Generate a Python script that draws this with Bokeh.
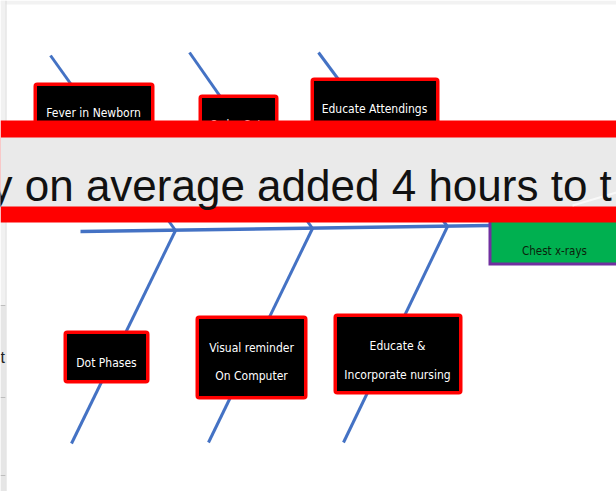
from bokeh.plotting import figure
from bokeh.models import Range1d
from bokeh.core.properties import value
from bokeh.embed import file_html
from bokeh.resources import INLINE

# ---- content (fishbone / cause-and-effect diagram) ----
top_labels = ["Fever in Newborn", "Order Sets", "Educate Attendings"]
bottom_lines_1 = ["Dot Phases", "Visual reminder", "Educate &"]
bottom_lines_2 = ["", "On Computer", "Incorporate nursing"]
effect_label = "Chest x-rays"
banner_text = "y on average added 4 hours to t"
edge_fragment = "nt"

# ---- geometry (screen pixels, y downward) ----
spine_x = [80, 489]
spine_y = [231, 225]
joint_x = [175, 312, 447]
joint_y = [230, 228, 226]
upper_tip_x = [50, 189, 318]
upper_tip_y = [55, 52, 52]
lower_tip_x = [71, 208, 343]
lower_tip_y = [443, 442, 442]

top_box_left = [33, 198, 310]
top_box_right = [154, 278, 439]
top_box_top = [82, 94, 77]
top_box_bottom = [135, 135, 135]
top_text_x = [93, 238, 374]
top_text_y = [112, 124, 108]

bot_box_left = [63, 195, 333]
bot_box_right = [149, 307, 462]
bot_box_top = [330, 315, 313]
bot_box_bottom = [383, 399, 394]
bot_text_x = [106, 251, 397]
bot_text_y1 = [362, 347, 345]
bot_text_y2 = [0, 375, 374]

W, H = 616, 491
p = figure(width=W, height=H, x_range=Range1d(0, W), y_range=Range1d(H, 0),
           output_backend="svg", toolbar_location=None, min_border=0,
           x_axis_type=None, y_axis_type=None,
           background_fill_color="white", border_fill_color="white", outline_line_color=None)
p.grid.visible = False

BLUE = "#4472C4"
RED = "#FF0000"

# window chrome around the slide
p.quad(left=[0], right=[W], top=[0], bottom=[4], fill_color="#F2F2F2", line_color=None)
p.quad(left=[0], right=[5], top=[0], bottom=[H], fill_color="#F1F1F1", line_color=None)
p.quad(left=[0], right=[5], top=[305], bottom=[H], fill_color="#E6E6E6", line_color=None)
p.multi_line(xs=[[0, 5], [0, 5], [0, 5]], ys=[[305, 305], [397, 397], [475, 475]],
             line_color="#BDBDBD", line_width=1)
p.line([5.5, 5.5], [0, H], line_color="#DADADA", line_width=1)
p.text(x=[-9], y=[357], text=[edge_fragment], text_font=value("Liberation Sans"), text_font_size="16px",
       text_color="#222222", text_align="left", text_baseline="alphabetic")

# bones
for i in range(3):
    p.line([upper_tip_x[i], joint_x[i]], [upper_tip_y[i], joint_y[i]], line_color=BLUE, line_width=3)
    p.line([joint_x[i], lower_tip_x[i]], [joint_y[i], lower_tip_y[i]], line_color=BLUE, line_width=3)
p.line(spine_x, spine_y, line_color=BLUE, line_width=3.5)

# cause boxes
ins = 1.75
for L, R, T, B in [(top_box_left, top_box_right, top_box_top, top_box_bottom),
                   (bot_box_left, bot_box_right, bot_box_top, bot_box_bottom)]:
    p.quad(left=[v + ins for v in L], right=[v - ins for v in R],
           top=[v + ins for v in T], bottom=[v - ins for v in B],
           fill_color="black", line_color=RED, line_width=3.5, border_radius=2)

FONT = value("DejaVu Sans Condensed, Liberation Sans Narrow, Liberation Sans, sans-serif")
FS = "12px"
p.text(x=top_text_x, y=top_text_y, text=top_labels, text_font=FONT, text_font_size=FS,
       text_color="white", text_align="center", text_baseline="alphabetic")
p.text(x=bot_text_x, y=bot_text_y1, text=bottom_lines_1, text_font=FONT, text_font_size=FS,
       text_color="white", text_align="center", text_baseline="alphabetic")
p.text(x=bot_text_x[1:], y=bot_text_y2[1:], text=bottom_lines_2[1:], text_font=FONT, text_font_size=FS,
       text_color="white", text_align="center", text_baseline="alphabetic")

# effect box (green with purple edge)
p.quad(left=[488], right=[W + 5], top=[215], bottom=[265], fill_color="#7030A0", line_color=None)
p.quad(left=[491], right=[W + 5], top=[215], bottom=[262], fill_color="#00B050", line_color=None)
p.text(x=[554], y=[250], text=[effect_label], text_font=FONT, text_font_size="11.5px",
       text_color="#0c1f0c", text_align="center", text_baseline="alphabetic")

# banner overlay
p.quad(left=[0], right=[W], top=[120], bottom=[222], fill_color=RED, line_color=None)
p.quad(left=[0], right=[W], top=[137], bottom=[206], fill_color="#EAEAEA", line_color=None)
p.line([572, 616], [205, 192], line_color="white", line_width=2, line_alpha=0.7)
p.text(x=[-10], y=[185], text=[banner_text], text_font=value("Liberation Sans"), text_font_size="44px",
       text_color="#111111", text_align="left", text_baseline="alphabetic")

open("out.html", "w").write(file_html(p, INLINE))
